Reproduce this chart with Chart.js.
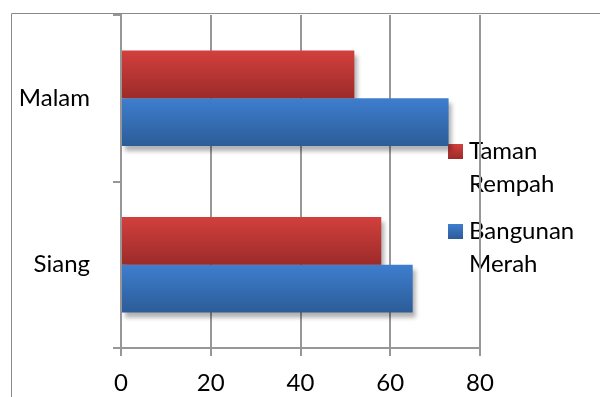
<!DOCTYPE html>
<html>
<head>
<meta charset="utf-8">
<script src="https://cdn.jsdelivr.net/npm/chart.js@4/dist/chart.umd.min.js"></script>
<style>
  html, body { margin: 0; padding: 0; background: #fff; }
  #wrap { width: 600px; height: 397px; position: relative; }
</style>
</head>
<body>
<div id="wrap"><canvas id="c" width="600" height="397"></canvas></div>
<script>
// Data
const categories = ['Malam', 'Siang'];
const seriesNames = ['Taman Rempah', 'Bangunan Merah'];
const legendLines = [['Taman', 'Rempah'], ['Bangunan', 'Merah']];
const tamanRempah = [52, 58];
const bangunanMerah = [73, 65];
const xTicks = [0, 20, 40, 60, 80];

// Styling
const FONT = 'Lato, "Open Sans", sans-serif';
const AXIS = '#979797';
const CAT_PCT = 0.575;
const RED = ['#d2403d', '#9c2b29'];
const BLUE = ['#3e7ecf', '#2c5c98'];

// Vertical gradient for each bar, spanning the bar's own thickness
function barFill(stops, slot) {
  return (ctx) => {
    const chart = ctx.chart;
    const ys = chart.scales.y;
    if (!ys || ctx.type !== 'data') return stops[0];
    const center = ys.getPixelForValue(ctx.dataIndex);
    const band = (ys.bottom - ys.top) / categories.length;
    const half = band * CAT_PCT / 2;
    const top = slot === 0 ? center - half : center;
    if (!isFinite(top) || !isFinite(half) || half <= 0) return stops[0];
    const g = chart.ctx.createLinearGradient(0, top, 0, top + half);
    g.addColorStop(0, stops[0]);
    g.addColorStop(1, stops[1]);
    return g;
  };
}

// White background, outer frame and the legend (drawn under the grid)
const framePlugin = {
  id: 'frameAndLegend',
  beforeDraw(chart) {
    const c = chart.ctx;
    c.save();
    c.fillStyle = '#fff';
    c.fillRect(0, 0, chart.width, chart.height);
    c.strokeStyle = '#8a8a8a';
    c.lineWidth = 1;
    c.beginPath();
    c.moveTo(11.5, chart.height);
    c.lineTo(11.5, 13.5);
    c.lineTo(chart.width, 13.5);
    c.stroke();

    const items = [
      { lines: legendLines[0], stops: RED, top: 144 },
      { lines: legendLines[1], stops: BLUE, top: 224 }
    ];
    c.font = '24px ' + FONT;
    c.textBaseline = 'alphabetic';
    c.textAlign = 'left';
    items.forEach(it => {
      const g = c.createLinearGradient(0, it.top, 0, it.top + 15);
      g.addColorStop(0, it.stops[0]);
      g.addColorStop(1, it.stops[1]);
      c.fillStyle = g;
      c.fillRect(448, it.top, 15, 15);
      c.fillStyle = '#000';
      it.lines.forEach((t, k) => c.fillText(t, 469, it.top + 15 + k * 33));
    });
    c.restore();
  }
};

// Soft drop shadow beneath every bar
const shadowPlugin = {
  id: 'barShadow',
  beforeDatasetsDraw(chart) {
    const c = chart.ctx;
    c.save();
    c.fillStyle = 'rgba(0,0,0,0.30)';
    c.filter = 'blur(2px)';
    chart.data.datasets.forEach((ds, i) => {
      chart.getDatasetMeta(i).data.forEach(bar => {
        const p = bar.getProps(['x', 'y', 'base', 'height'], true);
        c.fillRect(p.base + 3, p.y - p.height / 2 + 5, p.x - p.base, p.height);
      });
    });
    c.restore();
  }
};

new Chart(document.getElementById('c'), {
  type: 'bar',
  data: {
    labels: categories,
    datasets: [
      { label: seriesNames[0], data: tamanRempah, backgroundColor: barFill(RED, 0) },
      { label: seriesNames[1], data: bangunanMerah, backgroundColor: barFill(BLUE, 1) }
    ]
  },
  options: {
    indexAxis: 'y',
    responsive: false,
    animation: false,
    categoryPercentage: CAT_PCT,
    barPercentage: 1,
    borderSkipped: false,
    layout: { padding: { top: 15, right: 120, left: 0, bottom: 0 } },
    plugins: { legend: { display: false }, tooltip: { enabled: false } },
    scales: {
      x: {
        min: 0,
        max: 80,
        afterBuildTicks: (s) => { s.ticks = xTicks.map(v => ({ value: v })); },
        grid: { color: AXIS, lineWidth: 2, tickLength: 8 },
        border: { color: AXIS, width: 2 },
        ticks: { font: { family: FONT, size: 24 }, color: '#000', padding: 13, maxRotation: 0 },
        afterFit: (s) => { s.height = 49; s.paddingLeft = 0; s.paddingRight = 0; }
      },
      y: {
        offset: true,
        grid: { offset: true, drawOnChartArea: false, color: AXIS, lineWidth: 2, tickLength: 8 },
        border: { color: AXIS, width: 2 },
        ticks: { font: { family: FONT, size: 24 }, color: '#000', padding: 23 },
        afterFit: (s) => { s.width = 121; s.paddingTop = 0; s.paddingBottom = 0; }
      }
    }
  },
  plugins: [framePlugin, shadowPlugin]
});
</script>
</body>
</html>
